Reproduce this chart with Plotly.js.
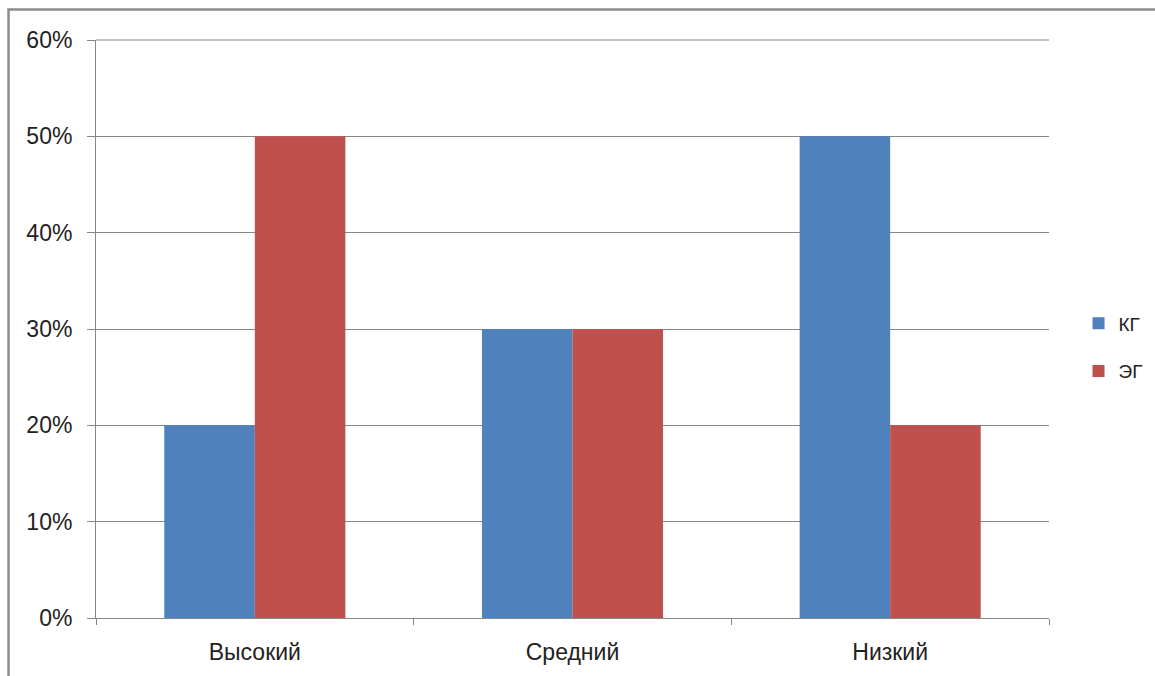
<!DOCTYPE html>
<html>
<head>
<meta charset="utf-8">
<script src="https://cdn.plot.ly/plotly-3.0.1.min.js"></script>
<style>
  html, body { margin: 0; padding: 0; background: #ffffff; }
  #chart { width: 1155px; height: 676px; }
</style>
</head>
<body>
<div id="chart"></div>
<script>
// Уровни и доли групп
const categories = ['Высокий', 'Средний', 'Низкий'];
const kgValues = [0.20, 0.30, 0.50];
const egValues = [0.50, 0.30, 0.20];
const yTicks = [0, 0.1, 0.2, 0.3, 0.4, 0.5, 0.6];
const yTickLabels = ['0%', '10%', '20%', '30%', '40%', '50%', '60%'];

const family = 'Liberation Sans, Arial, sans-serif';
const axisFont = { family: family, size: 23, color: '#222222' };
const legendFont = { family: family, size: 19, color: '#222222' };
const gray = '#868686';

const traces = [
  {
    type: 'bar', name: 'КГ', x: categories, y: kgValues,
    marker: { color: '#4F81BD' }, legendgroup: 'kg', hoverinfo: 'x+y'
  },
  {
    type: 'bar', name: 'ЭГ', x: categories, y: egValues,
    marker: { color: '#C0504D' }, legendgroup: 'eg', hoverinfo: 'x+y'
  }
];

const layout = {
  width: 1155, height: 676,
  margin: { l: 96, r: 106, t: 40, b: 58, autoexpand: false },
  paper_bgcolor: '#ffffff', plot_bgcolor: '#ffffff',
  font: axisFont,
  barmode: 'group',
  bargap: 0.43, bargroupgap: 0,
  showlegend: true,
  legend: {
    x: 1.031, xanchor: 'left', y: 0.468, yanchor: 'middle',
    font: legendFont, tracegroupgap: 20, itemwidth: 30,
    bgcolor: 'rgba(0,0,0,0)'
  },
  xaxis: {
    type: 'category',
    showline: true, linecolor: gray, linewidth: 1,
    ticks: 'outside', tickson: 'boundaries', ticklen: 6, tickcolor: gray,
    ticklabelstandoff: 13,
    showgrid: false, zeroline: false,
    tickfont: axisFont
  },
  yaxis: {
    range: [0, 0.6],
    tickvals: yTicks, ticktext: yTickLabels,
    showline: true, linecolor: gray, linewidth: 1,
    ticks: 'outside', ticklen: 8, tickcolor: gray,
    ticklabelstandoff: 10,
    showgrid: true, gridcolor: gray, gridwidth: 1,
    zeroline: false,
    tickfont: axisFont
  },
  shapes: [
    // top edge grid line of the plot area
    {
      type: 'line', xref: 'paper', yref: 'paper',
      x0: 0, x1: 1, y0: 1, y1: 1,
      line: { color: gray, width: 1 }, layer: 'below'
    },
    // outer chart frame
    {
      type: 'rect', xref: 'paper', yref: 'paper',
      x0: -0.0918, x1: 1.3, y0: -0.3, y1: 1.0528,
      line: { color: '#8c8c8c', width: 2.5 }, fillcolor: 'rgba(0,0,0,0)',
      layer: 'below'
    }
  ]
};

Plotly.newPlot('chart', traces, layout, { displayModeBar: false, staticPlot: true });
</script>
</body>
</html>
